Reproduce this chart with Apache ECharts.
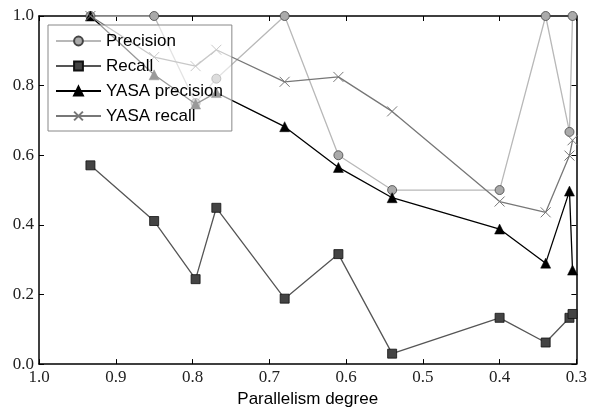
<!DOCTYPE html>
<html>
<head>
<meta charset="utf-8">
<script src="https://cdn.jsdelivr.net/npm/echarts@6/dist/echarts.min.js"></script>
<style>html,body{margin:0;padding:0;background:#fff}#c{width:590px;height:413px}</style>
</head>
<body>
<div id="c"></div>
<script>
const xVals = [0.933, 0.85, 0.796, 0.769, 0.68, 0.61, 0.54, 0.40, 0.34, 0.309, 0.305];
const precision = [1.0, 1.0, 0.75, 0.82, 1.0, 0.60, 0.50, 0.50, 1.0, 0.667, 1.0];
const recall = [0.571, 0.411, 0.244, 0.449, 0.188, 0.316, 0.030, 0.133, 0.062, 0.133, 0.144];
const yasaPrecision = [1.0, 0.831, 0.747, 0.780, 0.682, 0.565, 0.478, 0.388, 0.290, 0.497, 0.270];
const yasaRecall = [1.0, 0.882, 0.856, 0.903, 0.811, 0.825, 0.726, 0.467, 0.436, 0.599, 0.643];
const xTicks = {min: 0.3, max: 1.0, interval: 0.1};
const yTicks = {min: 0.0, max: 1.0, interval: 0.2};

const pair = arr => xVals.map((x, i) => [x, arr[i]]);
const serif = 'Liberation Serif';
const sans = 'Liberation Sans';

const chart = echarts.init(document.getElementById('c'));
const axisLine = {show: true, onZero: false, lineStyle: {color: '#000', width: 1.5}};
const tick = {show: true, inside: true, length: 5, lineStyle: {color: '#000', width: 1}};
chart.setOption({
  animation: false,
  grid: {left: 39, right: 12, top: 16, bottom: 38, containLabel: false},
  legend: {
    orient: 'vertical', left: 48, top: 25, z: 20,
    padding: [7, 9, 6, 7], itemGap: 7, itemWidth: 45, itemHeight: 11,
    backgroundColor: 'rgba(255,255,255,0.6)', borderColor: '#888', borderWidth: 1,
    textStyle: {fontFamily: sans, fontSize: 17, color: '#000', lineHeight: 18},
    data: ['Precision', 'Recall', 'YASA precision', 'YASA recall']
  },
  xAxis: [{
    type: 'value', inverse: true, min: xTicks.min, max: xTicks.max, interval: xTicks.interval,
    name: 'Parallelism degree', nameLocation: 'middle', nameGap: 20,
    nameTextStyle: {fontFamily: sans, fontSize: 17, color: '#000'},
    axisLine: axisLine, axisTick: tick, splitLine: {show: false},
    axisLabel: {fontFamily: serif, fontSize: 17, color: '#222', margin: 5,
      formatter: v => v.toFixed(1)}
  }, {
    type: 'value', position: 'top', inverse: true, min: xTicks.min, max: xTicks.max, interval: xTicks.interval,
    axisLine: axisLine, axisTick: tick, splitLine: {show: false}, axisLabel: {show: false}
  }],
  yAxis: [{
    type: 'value', min: yTicks.min, max: yTicks.max, interval: yTicks.interval,
    axisLine: axisLine, axisTick: tick, splitLine: {show: false},
    axisLabel: {fontFamily: serif, fontSize: 17, color: '#222', margin: 5,
      formatter: v => v.toFixed(1)}
  }, {
    type: 'value', position: 'right', min: yTicks.min, max: yTicks.max, interval: yTicks.interval,
    axisLine: axisLine, axisTick: tick, splitLine: {show: false}, axisLabel: {show: false}
  }],
  series: [{
    name: 'Precision', type: 'line', data: pair(precision), z: 2,
    symbol: 'circle', symbolSize: 9, clip: true,
    lineStyle: {color: '#b8b8b8', width: 1.3},
    itemStyle: {color: '#aaaaaa', borderColor: '#444', borderWidth: 0.8}
  }, {
    name: 'Recall', type: 'line', data: pair(recall), z: 3,
    symbol: 'rect', symbolSize: 9, clip: true,
    lineStyle: {color: '#555555', width: 1.3},
    itemStyle: {color: '#444444', borderColor: '#111', borderWidth: 0.8}
  }, {
    name: 'YASA precision', type: 'line', data: pair(yasaPrecision), z: 4,
    symbol: 'triangle', symbolSize: 10, clip: true,
    lineStyle: {color: '#000000', width: 1.3},
    itemStyle: {color: '#000000', borderColor: '#000', borderWidth: 0.5}
  }, {
    name: 'YASA recall', type: 'line', data: pair(yasaRecall), z: 5,
    symbol: 'path://M0,0L10,10M10,0L0,10', symbolSize: 10, clip: true,
    lineStyle: {color: '#777777', width: 1.3},
    itemStyle: {color: 'none', borderColor: '#777777', borderWidth: 1}
  }]
});
</script>
</body>
</html>
